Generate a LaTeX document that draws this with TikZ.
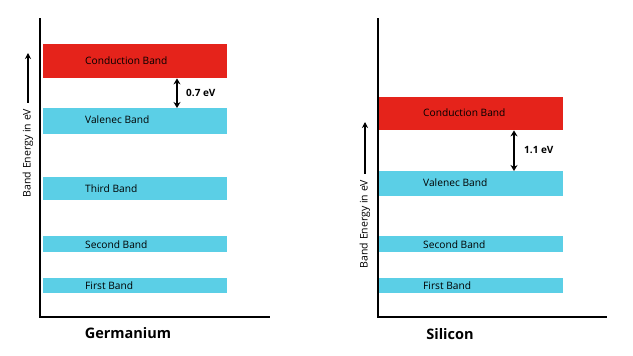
\documentclass[tikz,border=0pt]{standalone}
\usepackage{fontspec}
\setmainfont{Open Sans}
\usetikzlibrary{arrows.meta}
\definecolor{bandred}{HTML}{E5231B}
\definecolor{bandblue}{HTML}{5BCFE6}
\begin{document}
\begin{tikzpicture}[x=1pt,y=-1pt,
  band/.style={draw=none, inner sep=0pt, minimum width=184pt, anchor=north west},
  cband/.style={band, fill=bandred},
  vband/.style={band, fill=bandblue},
  bandtext/.style={anchor=west, inner sep=0pt, font=\fontsize{10.2}{12}\selectfont},
  axisline/.style={line width=1.3pt},
  gaparrow/.style={{Stealth[length=6pt,width=7pt]}-{Stealth[length=6pt,width=7pt]}, line width=2pt},
  uparrow/.style={-{Stealth[length=6pt,width=6pt]}, line width=1.4pt},
  gaptext/.style={anchor=west, inner sep=0pt, font=\fontsize{10}{12}\selectfont\bfseries},
  ylabel/.style={rotate=90, inner sep=0pt, font=\fontsize{10.5}{12}\selectfont},
  title/.style={inner sep=0pt, font=\fontsize{14.5}{18}\selectfont\bfseries}]
\useasboundingbox (0,0) rectangle (633,356);
% ---------------- Germanium ----------------
\coordinate (geTop) at (40,18);
\coordinate (geO) at (40,317);
\coordinate (geEnd) at (270,317);
\draw[axisline] (geTop) -- (geO) -- (geEnd);
\node[cband, minimum height=34pt] (geC) at (43,44) {};
\node[vband, minimum height=26pt] (geV) at (43,108) {};
\node[vband, minimum height=23pt] (geT) at (43,177) {};
\node[vband, minimum height=16pt] (geS) at (43,236) {};
\node[vband, minimum height=15pt] (geF) at (43,278) {};
\node[bandtext] (geCt) at (85,60.5) {Conduction Band};
\node[bandtext] (geVt) at (85,119.5) {Valenec Band};
\node[bandtext] (geTt) at (85,189) {Third Band};
\node[bandtext] (geSt) at (85,245) {Second Band};
\node[bandtext] (geFt) at (85,286) {First Band};
\coordinate (geGap) at (177,0);
\draw[gaparrow] (geC.south -| geGap) -- (geV.north -| geGap);
\node[gaptext] (geGapT) at (186,93) {0.7 eV};
\node[ylabel] (geY) at (28,153) {Band Energy in eV};
\coordinate (geArrTip) at (28,53);
\draw[uparrow] (geY.east) ++(0,-6) coordinate (geArrBase) -- (geArrTip);
\node[title] (geTitle) at (128,333) {Germanium};
% ---------------- Silicon ----------------
\coordinate (siTop) at (378,18);
\coordinate (siO) at (378,317);
\coordinate (siEnd) at (607,317);
\draw[axisline] (siTop) -- (siO) -- (siEnd);
\node[cband, minimum height=33pt] (siC) at (379,97) {};
\node[vband, minimum height=25pt] (siV) at (379,171) {};
\node[vband, minimum height=16pt] (siS) at (379,236) {};
\node[vband, minimum height=15pt] (siF) at (379,278) {};
\node[bandtext] (siCt) at (423,112.5) {Conduction Band};
\node[bandtext] (siVt) at (423,183) {Valenec Band};
\node[bandtext] (siSt) at (423,245) {Second Band};
\node[bandtext] (siFt) at (423,286) {First Band};
\coordinate (siGap) at (514,0);
\draw[gaparrow] (siC.south -| siGap) -- (siV.north -| siGap);
\node[gaptext] (siGapT) at (524,150) {1.1 eV};
\node[ylabel] (siY) at (365,224) {Band Energy in eV};
\coordinate (siArrTip) at (365,122);
\draw[uparrow] (siY.east) ++(0,-6) coordinate (siArrBase) -- (siArrTip);
\node[title] (siTitle) at (450,334) {Silicon};
\end{tikzpicture}
\end{document}
